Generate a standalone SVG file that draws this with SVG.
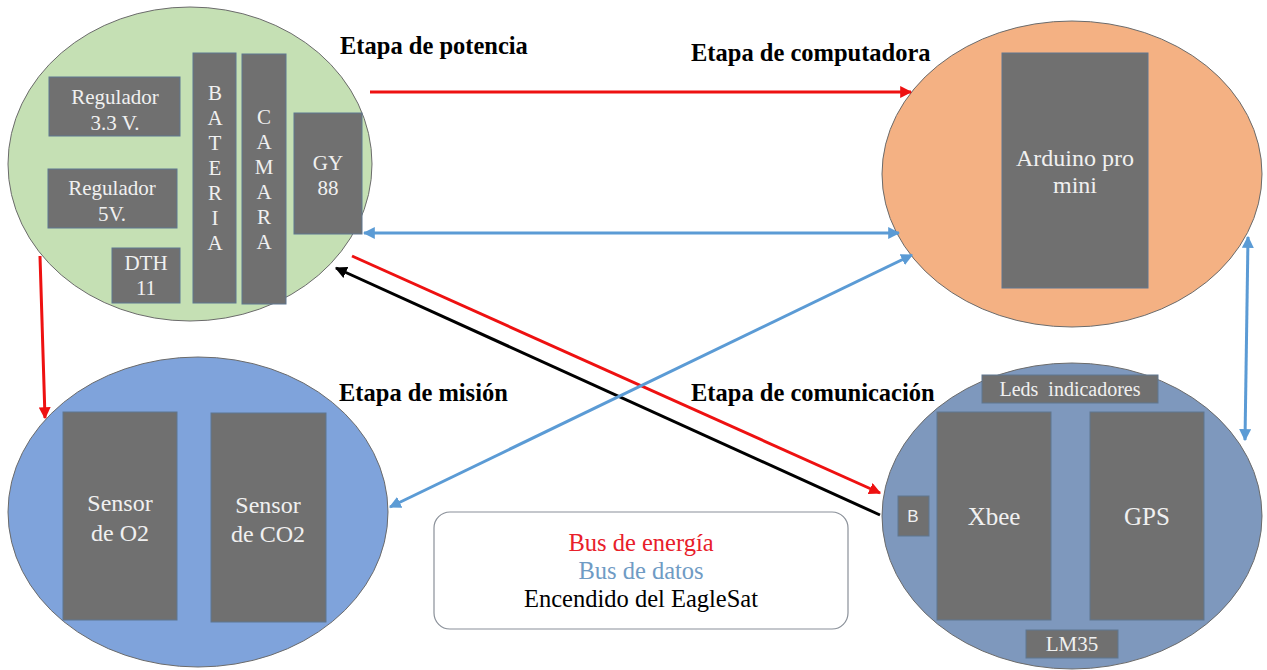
<svg xmlns="http://www.w3.org/2000/svg" width="1267" height="670" viewBox="0 0 1267 670">
<defs>
<style>
.ell{stroke:#6b6b6b;stroke-width:1}
.box{fill:#707070;stroke:#5f7690;stroke-width:1}
.bt{font-size:21px;fill:#f0f0f0;text-anchor:middle}
.ttl{font-size:24.5px;font-weight:bold;fill:#000}
.red{stroke:#ee1111;stroke-width:3;fill:none}
.blu{stroke:#5b9bd5;stroke-width:3;fill:none}
.blk{stroke:#000;stroke-width:3;fill:none}
.lg{font-size:24.5px;text-anchor:middle}
</style>
<marker id="mr" viewBox="0 0 10 10" refX="9" refY="5" markerWidth="4" markerHeight="4" orient="auto-start-reverse"><path d="M0,0L10,5L0,10z" fill="#ee1111"/></marker>
<marker id="mb" viewBox="0 0 10 10" refX="9" refY="5" markerWidth="4" markerHeight="4" orient="auto-start-reverse"><path d="M0,0L10,5L0,10z" fill="#5b9bd5"/></marker>
<marker id="mk" viewBox="0 0 10 10" refX="9" refY="5" markerWidth="4" markerHeight="4" orient="auto-start-reverse"><path d="M0,0L10,5L0,10z" fill="#000"/></marker>
</defs>
<rect width="1267" height="670" fill="#fff"/>
<g font-family="Liberation Serif, Times New Roman, serif">
<g id="potencia">
<ellipse class="ell" cx="190" cy="164" rx="182" ry="157" fill="#c5e0b4"/>
<rect class="box" x="49" y="77" width="131" height="59"/>
<text class="bt"><tspan x="115" y="104">Regulador</tspan><tspan x="115" y="130">3.3 V.</tspan></text>
<rect class="box" x="48" y="169" width="129" height="59"/>
<text class="bt"><tspan x="112" y="195">Regulador</tspan><tspan x="112" y="221">5V.</tspan></text>
<rect class="box" x="112" y="248" width="68" height="55"/>
<text class="bt"><tspan x="146" y="270">DTH</tspan><tspan x="146" y="295">11</tspan></text>
<rect class="box" x="193" y="53" width="43" height="250"/>
<text class="bt"><tspan x="215" y="100">B</tspan><tspan x="215" y="125">A</tspan><tspan x="215" y="150">T</tspan><tspan x="215" y="175">E</tspan><tspan x="215" y="200">R</tspan><tspan x="215" y="225">I</tspan><tspan x="215" y="250">A</tspan></text>
<rect class="box" x="242" y="54" width="44" height="250"/>
<text class="bt"><tspan x="264" y="124">C</tspan><tspan x="264" y="149">A</tspan><tspan x="264" y="174">M</tspan><tspan x="264" y="199">A</tspan><tspan x="264" y="224">R</tspan><tspan x="264" y="249">A</tspan></text>
<rect class="box" x="294" y="113" width="68" height="121"/>
<text class="bt"><tspan x="328" y="170">GY</tspan><tspan x="328" y="195">88</tspan></text>
<text class="ttl" x="340" y="54">Etapa de potencia</text>
</g>

<g id="computadora">
<ellipse class="ell" cx="1072" cy="174" rx="190" ry="153" fill="#f4b183"/>
<rect class="box" x="1002" y="53" width="146" height="235"/>
<text class="bt" style="font-size:24px"><tspan x="1075" y="166">Arduino pro</tspan><tspan x="1075" y="193">mini</tspan></text>
<text class="ttl" x="691" y="61">Etapa de computadora</text>
</g>

<g id="mision">
<ellipse class="ell" cx="198" cy="512" rx="190" ry="155" fill="#7fa3db"/>
<rect class="box" x="63" y="412" width="114" height="208"/>
<text class="bt" style="font-size:24px"><tspan x="120" y="511">Sensor</tspan><tspan x="120" y="541">de O2</tspan></text>
<rect class="box" x="211" y="413" width="115" height="209"/>
<text class="bt" style="font-size:24px"><tspan x="268" y="513">Sensor</tspan><tspan x="268" y="542">de CO2</tspan></text>
<text class="ttl" x="339" y="401">Etapa de misión</text>
</g>

<g id="comunicacion">
<ellipse class="ell" cx="1072" cy="516" rx="190" ry="153" fill="#7e98bd"/>
<rect class="box" x="982" y="375" width="176" height="28"/>
<text class="bt" style="font-size:20px" x="1070" y="396" xml:space="preserve">Leds  indicadores</text>
<rect class="box" x="898" y="496" width="31" height="40"/>
<text x="913" y="522" font-family="Liberation Sans, Arial, sans-serif" style="font-size:17px;fill:#f0f0f0;text-anchor:middle">B</text>
<rect class="box" x="937" y="412" width="114" height="208"/>
<text class="bt" style="font-size:25px" x="994" y="525">Xbee</text>
<rect class="box" x="1090" y="412" width="114" height="208"/>
<text class="bt" style="font-size:25px" x="1147" y="525">GPS</text>
<rect class="box" x="1026" y="630" width="92" height="28"/>
<text class="bt" x="1072" y="651">LM35</text>
<text class="ttl" x="691" y="401">Etapa de comunicación</text>
</g>

<g id="connectors">
<line class="red" x1="370" y1="92" x2="911" y2="92" marker-end="url(#mr)"/>
<line class="blu" x1="364" y1="233" x2="899" y2="233" marker-start="url(#mb)" marker-end="url(#mb)"/>
<line class="red" x1="352" y1="256" x2="880" y2="493" marker-end="url(#mr)"/>
<line class="blk" x1="880" y1="515" x2="336" y2="268" marker-end="url(#mk)"/>
<line class="blu" x1="390" y1="507" x2="912" y2="255" marker-start="url(#mb)" marker-end="url(#mb)"/>
<line class="red" x1="40" y1="256" x2="45" y2="418" marker-end="url(#mr)"/>
<line class="blu" x1="1248" y1="237" x2="1245" y2="440" marker-start="url(#mb)" marker-end="url(#mb)"/>
</g>

<g id="legend">
<rect x="434" y="512" width="414" height="117" rx="16" fill="#fff" stroke="#8a9099" stroke-width="1.2"/>
<text class="lg" x="641" y="551" fill="#e8202a">Bus de energía</text>
<text class="lg" x="641" y="579" fill="#6f9bc4">Bus de datos</text>
<text class="lg" x="641" y="607" fill="#000">Encendido del EagleSat</text>
</g>
</g>
</svg>
